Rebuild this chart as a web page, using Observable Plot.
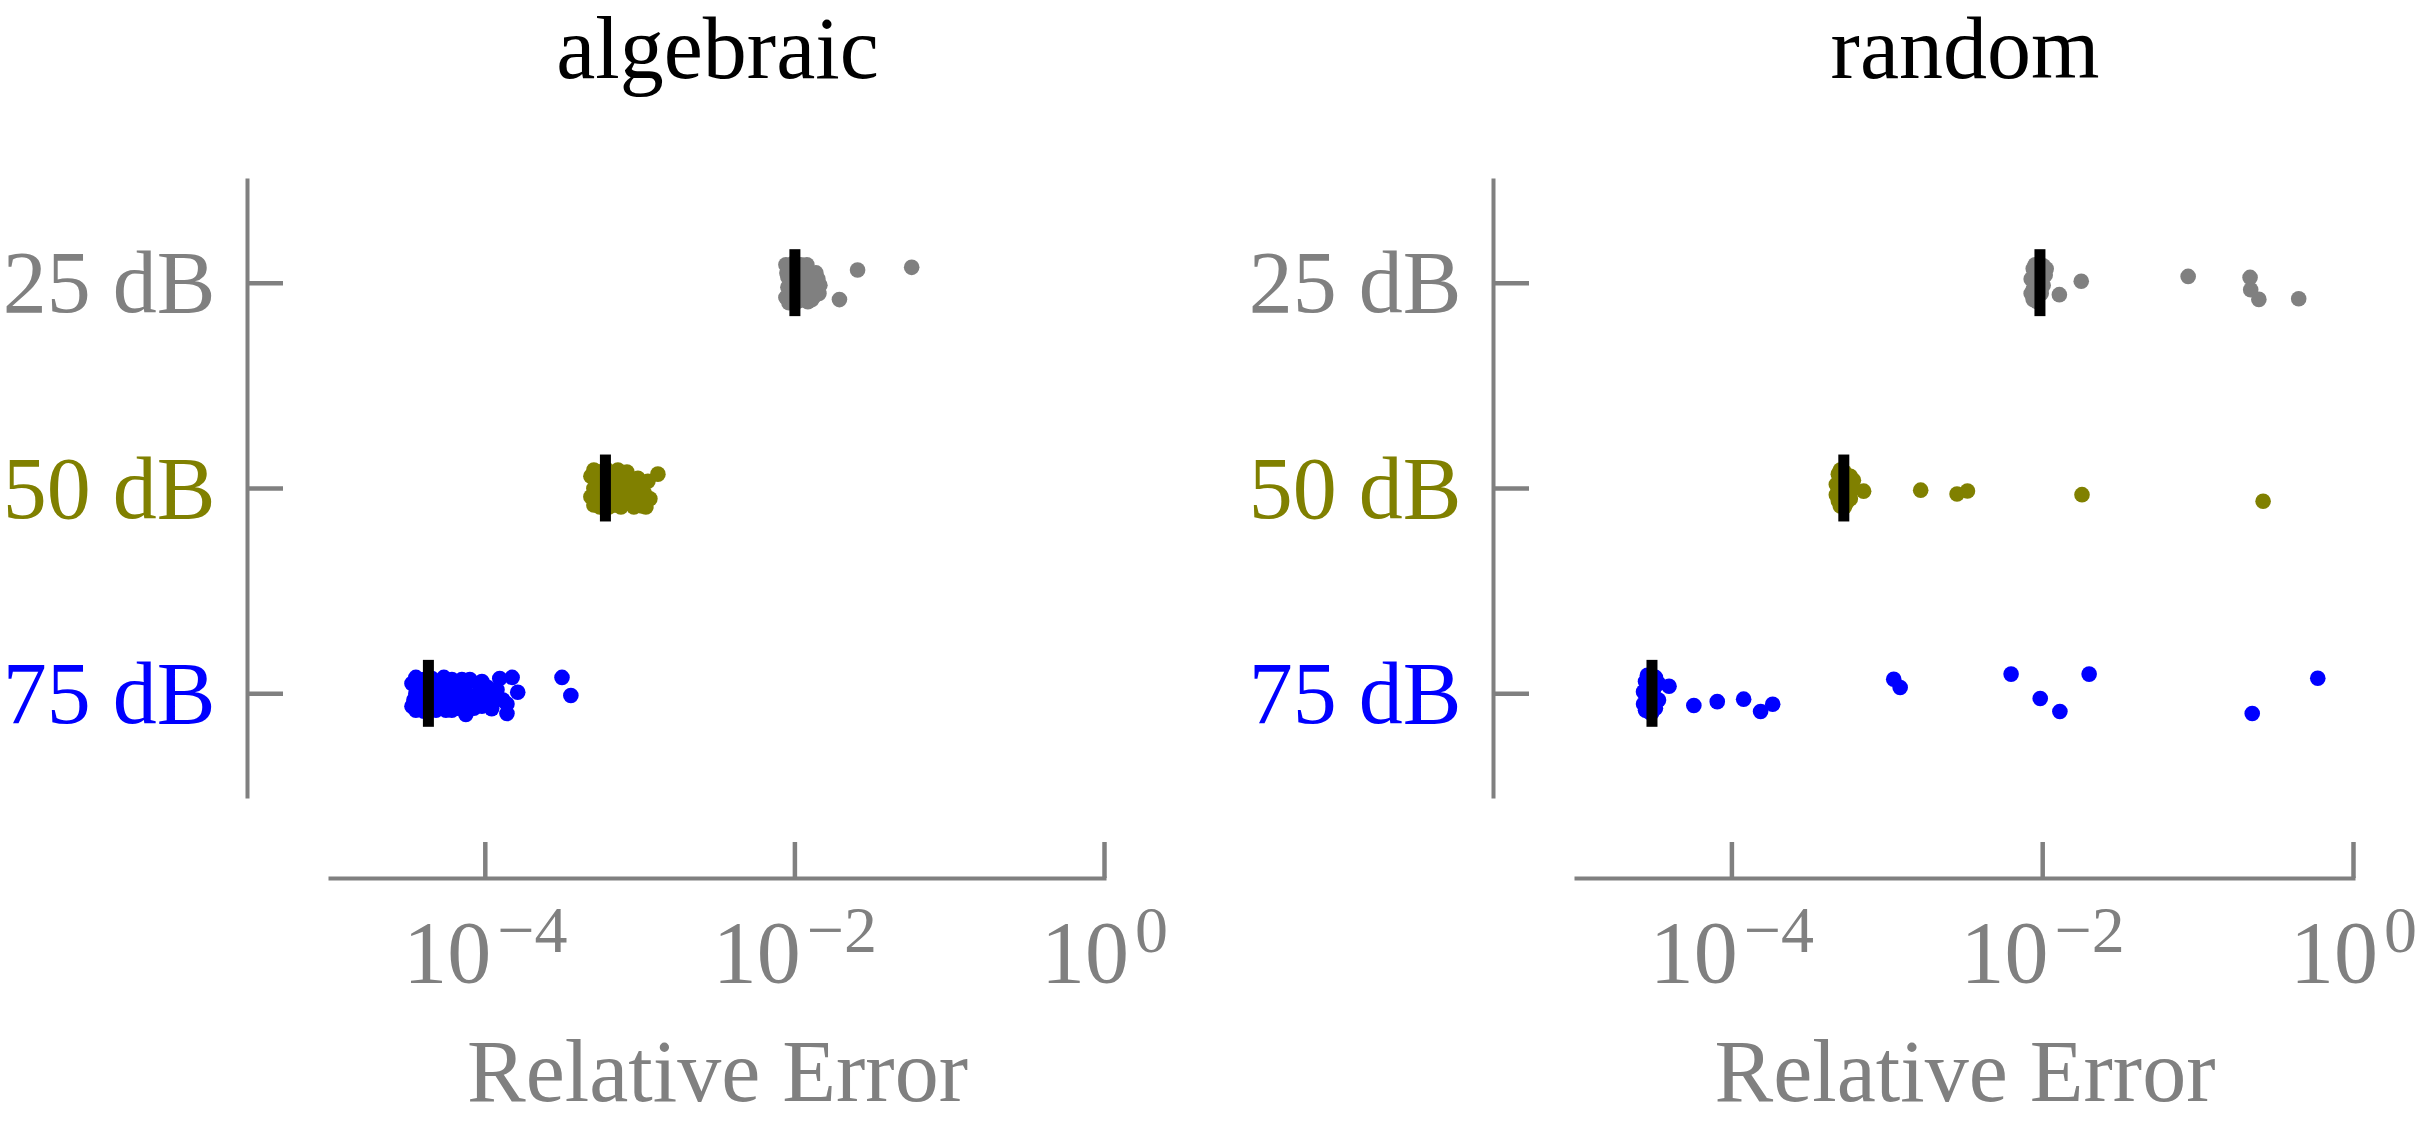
<!DOCTYPE html>
<html>
<head>
<meta charset="utf-8">
<script src="https://cdn.jsdelivr.net/npm/d3@7"></script>
<script src="https://cdn.jsdelivr.net/npm/@observablehq/plot@0.6"></script>
<style>
  html, body { margin: 0; padding: 0; background: #ffffff; }
  #wrap { display: flex; width: 2417px; height: 1123px; }
  svg { font-family: "Liberation Serif", "DejaVu Serif", serif; }
</style>
</head>
<body>
<div id="wrap"></div>
<script>
// ---------- data ----------
const levels = ["25 dB", "50 dB", "75 dB"];
const levelColors = ["#808080", "#808000", "#0000ff"];
const methods = ["algebraic", "random"];
const xTicks = [1e-4, 1e-2, 1e0];
const xDomain = [1e-5, 1e0];
const axisLabel = "Relative Error";

// algebraic, 25 dB
const alg25 = [8.75e-3, 8.88e-3, 9.01e-3, 8.75e-3, 9.15e-3, 9.28e-3, 9.42e-3, 9.28e-3, 9.56e-3, 9.71e-3,
  9.85e-3, 9.71e-3, 1.00e-2, 1.015e-2, 1.03e-2, 1.03e-2, 1.046e-2, 1.061e-2, 1.077e-2, 1.093e-2,
  1.093e-2, 1.11e-2, 1.126e-2, 1.143e-2, 1.16e-2, 1.178e-2, 1.195e-2, 1.213e-2, 1.232e-2, 1.269e-2,
  1.288e-2, 1.307e-2, 1.347e-2, 1.408e-2, 1.45e-2, 9.01e-3, 9.42e-3, 1.015e-2, 1.061e-2, 1.126e-2,
  1.367e-2, 1.43e-2, 1.94e-2, 2.54e-2, 5.68e-2];
const alg25Jit = [-0.09, -0.05, 0.02, 0.07, 0.095, -0.08, -0.02, 0.04, 0.08, -0.095,
  -0.06, 0.0, 0.05, -0.03, 0.09, -0.07, 0.02, 0.06, -0.05, -0.09,
  0.03, 0.08, -0.02, 0.05, -0.07, 0.0, -0.09, 0.09, -0.04, 0.03,
  0.08, -0.01, 0.06, -0.02, 0.01, -0.03, 0.07, 0.02, -0.03, 0.06,
  -0.05, 0.05, 0.08, -0.064, -0.077];

// algebraic, 50 dB
const alg50 = [4.81e-4, 4.81e-4, 5.03e-4, 5.03e-4, 5.03e-4, 5.26e-4, 5.26e-4, 5.50e-4, 5.50e-4, 5.50e-4,
  5.75e-4, 5.75e-4, 6.01e-4, 6.01e-4, 6.01e-4, 6.29e-4, 6.29e-4, 6.57e-4, 6.57e-4, 6.87e-4,
  6.87e-4, 7.19e-4, 7.19e-4, 7.52e-4, 7.52e-4, 7.86e-4, 8.22e-4, 8.22e-4, 8.59e-4, 9.12e-4,
  9.12e-4, 9.68e-4, 9.68e-4, 1.027e-3, 1.027e-3, 1.09e-3, 1.09e-3, 1.123e-3, 1.157e-3,
  5.26e-4, 5.75e-4, 6.29e-4, 6.87e-4, 7.52e-4, 7.86e-4, 8.59e-4, 9.40e-4, 1.058e-3, 1.303e-3];
const alg50Jit = [-0.06, 0.04, -0.09, 0.08, 0.0, -0.03, 0.06, -0.08, 0.02, 0.09,
  -0.05, 0.04, -0.095, 0.0, 0.07, -0.04, 0.09, -0.07, 0.03, 0.08,
  -0.02, -0.09, 0.05, 0.0, 0.09, -0.06, 0.04, -0.08, 0.07, 0.02,
  0.09, -0.05, 0.06, 0.085, -0.01, 0.09, 0.04, -0.035, 0.05,
  0.02, 0.08, 0.0, -0.07, -0.05, 0.06, -0.04, -0.02, 0.02, -0.07];

// algebraic, 75 dB
const alg75 = [3.36e-5, 3.36e-5, 3.56e-5, 3.56e-5, 3.56e-5, 3.78e-5, 3.78e-5, 4.01e-5, 4.01e-5, 4.01e-5,
  4.26e-5, 4.26e-5, 4.52e-5, 4.52e-5, 4.52e-5, 4.80e-5, 4.80e-5, 5.09e-5, 5.09e-5, 5.40e-5,
  5.40e-5, 5.73e-5, 5.73e-5, 6.08e-5, 6.08e-5, 6.46e-5, 6.85e-5, 6.85e-5, 7.38e-5, 7.49e-5,
  7.95e-5, 7.95e-5, 8.70e-5, 9.51e-5, 9.51e-5, 1.04e-4, 1.10e-4, 1.14e-4, 1.24e-4, 1.38e-4,
  1.38e-4, 1.49e-4, 1.62e-4,
  3.46e-5, 3.67e-5, 3.89e-5, 4.13e-5, 4.66e-5, 4.94e-5, 5.57e-5, 5.91e-5, 6.65e-5, 7.06e-5,
  7.72e-5, 8.44e-5, 8.96e-5, 1.009e-4, 1.19e-4, 1.30e-4, 6.65e-5, 5.57e-5,
  3.13e-4, 3.57e-4];
const alg75Jit = [-0.05, 0.06, -0.08, 0.0, 0.08, -0.03, 0.05, -0.07, 0.02, 0.085,
  -0.04, 0.07, -0.075, 0.01, 0.06, -0.02, 0.08, -0.06, 0.04, 0.0,
  -0.08, 0.05, -0.04, 0.08, -0.07, 0.02, -0.05, 0.06, -0.02, 0.10,
  0.04, -0.07, 0.01, -0.06, 0.06, -0.03, 0.072, 0.02, -0.075, 0.05,
  0.096, -0.08, -0.008,
  0.03, -0.05, 0.06, -0.01, -0.05, 0.03, 0.08, -0.01, 0.07, -0.07,
  0.01, 0.07, -0.05, 0.03, -0.02, 0.03, -0.02, -0.03,
  -0.08, 0.008];

// random, 25 dB
const rnd25 = [8.43e-3, 8.43e-3, 8.69e-3, 8.69e-3, 8.95e-3, 8.95e-3, 8.95e-3, 9.22e-3, 9.22e-3, 9.22e-3,
  9.50e-3, 9.50e-3, 9.50e-3, 9.78e-3, 9.78e-3, 1.007e-2, 1.007e-2, 1.038e-2, 1.053e-2, 8.69e-3,
  1.28e-2, 1.77e-2, 8.63e-2, 0.216, 0.218, 0.246, 0.444];
const rnd25Jit = [-0.02, 0.05, -0.07, 0.08, -0.09, 0.0, 0.04, -0.05, 0.07, 0.09,
  -0.03, 0.02, -0.08, 0.05, -0.06, 0.01, -0.085, -0.04, -0.07, 0.03,
  0.056, -0.009, -0.033, -0.028, 0.032, 0.079, 0.076];

// random, 50 dB
const rnd50 = [4.70e-4, 4.70e-4, 4.84e-4, 4.84e-4, 4.99e-4, 4.99e-4, 4.99e-4, 5.14e-4, 5.14e-4, 5.29e-4,
  5.29e-4, 5.29e-4, 5.45e-4, 5.45e-4, 5.45e-4, 5.61e-4, 5.78e-4, 5.78e-4, 6.05e-4, 6.05e-4,
  7.04e-4, 1.64e-3, 2.81e-3, 3.28e-3, 1.79e-2, 0.262];
const rnd50Jit = [-0.02, 0.03, -0.07, 0.06, -0.09, 0.0, 0.085, -0.04, 0.05, -0.08,
  0.02, 0.09, -0.05, 0.07, 0.0, -0.02, -0.06, 0.05, -0.04, 0.0,
  0.013, 0.008, 0.027, 0.012, 0.030, 0.062];

// random, 75 dB
const rnd75 = [2.70e-5, 2.70e-5, 2.78e-5, 2.78e-5, 2.86e-5, 2.86e-5, 2.95e-5, 2.95e-5, 2.95e-5, 3.04e-5,
  3.04e-5, 3.13e-5, 3.13e-5, 3.22e-5, 3.22e-5, 3.37e-5, 3.37e-5, 3.04e-5, 2.78e-5,
  3.94e-5, 5.69e-5, 8.05e-5, 1.19e-4, 1.53e-4, 1.83e-4, 1.10e-3, 1.21e-3, 6.26e-3, 9.64e-3,
  1.29e-2, 1.99e-2, 0.223, 0.589];
const rnd75Jit = [-0.01, 0.05, -0.06, 0.08, -0.09, 0.02, -0.04, 0.09, 0.0, -0.07,
  0.06, -0.02, 0.04, -0.08, 0.07, 0.03, -0.05, 0.095, 0.0,
  -0.037, 0.057, 0.038, 0.026, 0.086, 0.051, -0.071, -0.031, -0.096, 0.023,
  0.086, -0.096, 0.096, -0.076];

// medians (black bars)
const algMedians = [1.0e-2, 5.97e-4, 4.29e-5];
const rndMedians = [9.6e-3, 5.25e-4, 3.06e-5];

// ---------- drawing ----------
const gray = "#808080";
const FS = 88;

function panel(title, groups, medians, width, marginRight) {
  const rows = groups.flatMap(([vals, jit], i) => vals.map((v, k) => ({i, v, j: jit[k]})));
  const med = medians.map((v, i) => ({i, v}));
  const svg = Plot.plot({
    width, height: 1123,
    marginLeft: 247, marginRight, marginTop: 180, marginBottom: 327,
    insetLeft: 83,
    style: {fontFamily: "Liberation Serif, DejaVu Serif, serif", background: "white", overflow: "visible"},
    x: {type: "log", domain: xDomain, label: null},
    y: {domain: [-0.5, 2.5], reverse: true, label: null},
    color: {type: "identity"},
    marks: [
      Plot.frame({anchor: "left", stroke: gray, strokeWidth: 4}),
      Plot.frame({anchor: "bottom", stroke: gray, strokeWidth: 4, insetLeft: 83, dy: 82}),
      Plot.axisY({ticks: [0, 1, 2], tickSize: -36, stroke: gray, strokeWidth: 4.5, fill: "none", label: null}),
      Plot.axisY({ticks: [0, 1, 2], tickSize: 0, tickPadding: 32, dy: 1, label: null,
        tickFormat: i => levels[i], fill: i => levelColors[i], fontSize: FS}),
      Plot.axisX({ticks: xTicks, tickSize: -36, stroke: gray, strokeWidth: 4.5, fill: "none", dy: 82, label: null}),
      Plot.axisX({ticks: xTicks, tickSize: 0, dy: 114, label: null, fill: gray, fontSize: FS,
        tickFormat: d => "10^" + Math.round(Math.log10(d))}),
      Plot.text([title], {frameAnchor: "top", lineAnchor: "middle", dx: 41.5, dy: -131, fontSize: FS, fill: "black"}),
      Plot.text([axisLabel], {frameAnchor: "bottom", lineAnchor: "middle", dx: 41.5, dy: 276, fontSize: FS, fill: gray}),
      Plot.dot(rows, {x: "v", y: d => d.i + d.j, r: 7.8, fill: d => levelColors[d.i]}),
      Plot.ruleX(med, {x: "v", y1: d => d.i - 0.163, y2: d => d.i + 0.163, stroke: "black", strokeWidth: 11})
    ]
  });
  // render exponents as superscripts (kept as real text)
  svg.querySelectorAll('g[aria-label="x-axis tick label"] text').forEach(t => {
    const s = t.textContent;
    if (!s.includes("^")) return;
    const [base, exp] = s.split("^");
    t.textContent = base;
    const ts = document.createElementNS("http://www.w3.org/2000/svg", "tspan");
    ts.setAttribute("font-size", Math.round(FS * 0.75));
    ts.setAttribute("dy", -30);
    ts.setAttribute("dx", 6);
    ts.textContent = exp.replace("-", "\u2212");
    t.appendChild(ts);
  });
  return svg;
}

const wrap = document.getElementById("wrap");
wrap.appendChild(panel(methods[0], [[alg25, alg25Jit], [alg50, alg50Jit], [alg75, alg75Jit]], algMedians, 1246, 142));
wrap.appendChild(panel(methods[1], [[rnd25, rnd25Jit], [rnd50, rnd50Jit], [rnd75, rnd75Jit]], rndMedians, 1171, 64));
</script>
</body>
</html>
